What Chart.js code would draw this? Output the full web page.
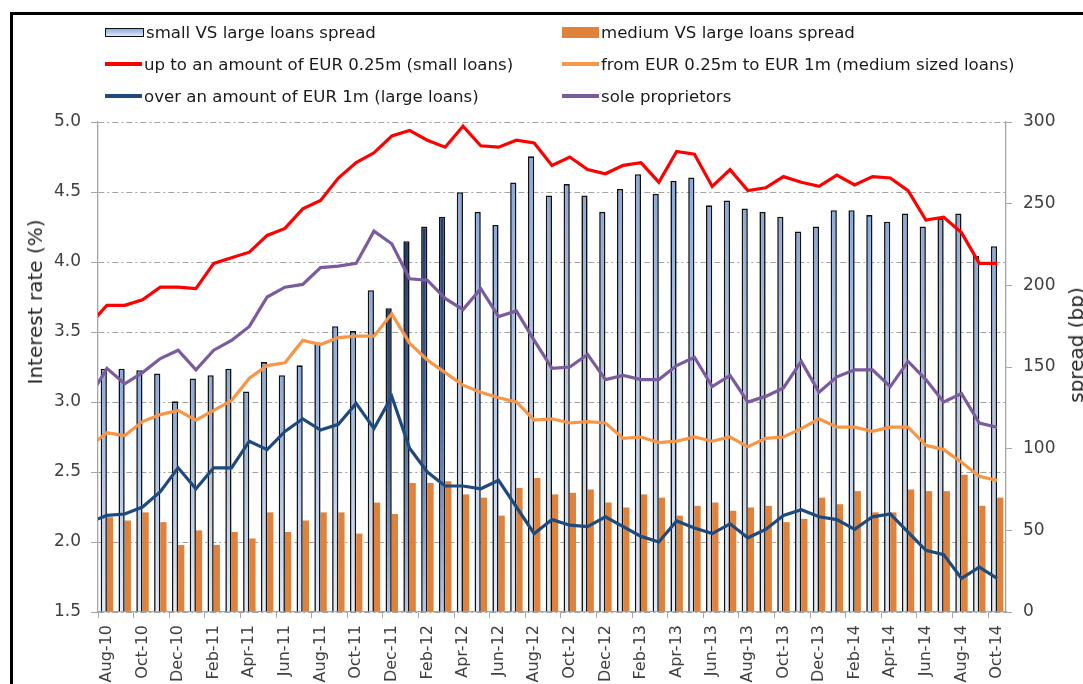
<!DOCTYPE html>
<html>
<head>
<meta charset="utf-8">
<script src="https://cdn.jsdelivr.net/npm/chart.js@4.4.1/dist/chart.umd.min.js"></script>
<style>
  html, body { margin: 0; padding: 0; background: #fff; overflow: hidden; }
  body { width: 1083px; height: 684px; position: relative; font-family: 'DejaVu Sans', sans-serif; }
  #frame { position: absolute; left: 10px; top: 12px; width: 1200px; height: 800px;
           border-left: 3px solid #000; border-top: 3px solid #000; }
  #myChart { position: absolute; left: 0; top: 0; }
  .item { position: absolute; height: 20px; display: flex; align-items: center;
          font-size: 16.6px; color: #1a1a1a; white-space: nowrap; }
  .mark { width: 37px; margin-right: 2px; flex: none; }
  .title { position: absolute; font-size: 20px; line-height: 1; color: #262626; white-space: nowrap;
           transform: translate(-50%, -50%) rotate(-90deg); }
</style>
</head>
<body>
<div id="frame"></div>
<canvas id="myChart" width="1100" height="700"></canvas>

<div class="item" style="left:105px; top:22px">
  <span class="mark" style="height:7px; border:1.5px solid #111; background:linear-gradient(#8eaadc,#dfe8f5)"></span>small VS large loans spread</div>
<div class="item" style="left:562px; top:22px">
  <span class="mark" style="height:11px; background:#e0823c"></span>medium VS large loans spread</div>
<div class="item" style="left:105px; top:54px">
  <span class="mark" style="height:3.5px; background:#ff0000"></span>up to an amount of EUR 0.25m (small loans)</div>
<div class="item" style="left:562px; top:54px">
  <span class="mark" style="height:3.5px; background:#f79646"></span>from EUR 0.25m to EUR 1m (medium sized loans)</div>
<div class="item" style="left:105px; top:86px">
  <span class="mark" style="height:3.5px; background:#1f4a7c"></span>over an amount of EUR 1m (large loans)</div>
<div class="item" style="left:562px; top:86px">
  <span class="mark" style="height:3.5px; background:#7a5c9e"></span>sole proprietors</div>

<div class="title" style="left:35px; top:302px">Interest rate (%)</div>
<div class="title" style="left:1076px; top:345px">spread (bp)</div>

<script>
// months; Jul-10 sits just outside the plot so the lines run in from the axis
const labels = [
  'Jul-10', 'Aug-10', 'Sep-10', 'Oct-10', 'Nov-10', 'Dec-10',
  'Jan-11', 'Feb-11', 'Mar-11', 'Apr-11', 'May-11', 'Jun-11', 'Jul-11', 'Aug-11', 'Sep-11', 'Oct-11', 'Nov-11', 'Dec-11',
  'Jan-12', 'Feb-12', 'Mar-12', 'Apr-12', 'May-12', 'Jun-12', 'Jul-12', 'Aug-12', 'Sep-12', 'Oct-12', 'Nov-12', 'Dec-12',
  'Jan-13', 'Feb-13', 'Mar-13', 'Apr-13', 'May-13', 'Jun-13', 'Jul-13', 'Aug-13', 'Sep-13', 'Oct-13', 'Nov-13', 'Dec-13',
  'Jan-14', 'Feb-14', 'Mar-14', 'Apr-14', 'May-14', 'Jun-14', 'Jul-14', 'Aug-14', 'Sep-14', 'Oct-14',
];

// spreads in bp (right axis)
const smallVsLarge = [null,
  149, 149, 148, 146, 129, 143, 145, 149, 135, 153, 145, 151, 165, 175, 172, 197, 186,
  227, 236, 242, 257, 245, 237, 263, 279, 255, 262, 255, 245, 259, 268, 256, 264, 266,
  249, 252, 247, 245, 242, 233, 236, 246, 246, 243, 239, 244, 236, 241, 244, 218, 224];
const mediumVsLarge = [null,
  58, 56, 61, 55, 41, 50, 41, 49, 45, 61, 49, 56, 61, 61, 48, 67, 60,
  79, 79, 80, 72, 70, 59, 76, 82, 72, 73, 75, 67, 64, 72, 70, 59, 65,
  67, 62, 64, 65, 55, 57, 70, 66, 74, 61, 61, 75, 74, 74, 84, 65, 70];

// interest rates in % (left axis)
const smallLoans = [3.55,
  3.69, 3.69, 3.73, 3.82, 3.82, 3.81, 3.99, 4.03, 4.07, 4.19, 4.24, 4.38, 4.44, 4.60, 4.71, 4.78, 4.90,
  4.94, 4.87, 4.82, 4.97, 4.83, 4.82, 4.87, 4.85, 4.69, 4.75, 4.66, 4.63, 4.69, 4.71, 4.57, 4.79, 4.77,
  4.54, 4.66, 4.51, 4.53, 4.61, 4.57, 4.54, 4.62, 4.55, 4.61, 4.60, 4.51, 4.30, 4.32, 4.21, 3.99, 3.99];
const mediumLoans = [2.68,
  2.78, 2.76, 2.86, 2.91, 2.94, 2.87, 2.94, 3.01, 3.17, 3.26, 3.28, 3.44, 3.41, 3.46, 3.47, 3.47, 3.63,
  3.42, 3.30, 3.21, 3.12, 3.07, 3.03, 3.00, 2.87, 2.88, 2.85, 2.86, 2.85, 2.74, 2.75, 2.71, 2.72, 2.75,
  2.72, 2.75, 2.68, 2.74, 2.75, 2.81, 2.88, 2.82, 2.82, 2.79, 2.82, 2.82, 2.69, 2.66, 2.57, 2.47, 2.44];
const largeLoans = [2.14,
  2.19, 2.20, 2.25, 2.36, 2.53, 2.38, 2.53, 2.53, 2.72, 2.66, 2.79, 2.88, 2.80, 2.84, 2.99, 2.81, 3.04,
  2.67, 2.50, 2.40, 2.40, 2.38, 2.44, 2.25, 2.06, 2.16, 2.12, 2.11, 2.18, 2.11, 2.04, 2.00, 2.15, 2.10,
  2.06, 2.13, 2.03, 2.09, 2.19, 2.23, 2.18, 2.16, 2.09, 2.18, 2.20, 2.07, 1.94, 1.91, 1.74, 1.82, 1.74];
const soleProprietors = [3.03,
  3.24, 3.13, 3.21, 3.31, 3.37, 3.23, 3.37, 3.44, 3.54, 3.75, 3.82, 3.84, 3.96, 3.97, 3.99, 4.22, 4.13,
  3.88, 3.87, 3.74, 3.66, 3.81, 3.61, 3.65, 3.44, 3.24, 3.25, 3.34, 3.16, 3.19, 3.16, 3.16, 3.26, 3.32,
  3.11, 3.19, 3.00, 3.04, 3.10, 3.29, 3.07, 3.18, 3.23, 3.23, 3.11, 3.29, 3.16, 3.00, 3.06, 2.85, 2.82];

// months whose small-vs-large bar is filled darker
const darkMonths = ['Dec-11', 'Jan-12', 'Feb-12', 'Mar-12'];

const FONT = "'DejaVu Sans', sans-serif";
const AXIS = '#a6a6a6';

const barFill = (c) => {
  const { chart } = c;
  const area = chart.chartArea;
  if (!area || c.raw == null) return '#9db7e0';
  const top = chart.scales.y2.getPixelForValue(c.raw);
  const g = chart.ctx.createLinearGradient(0, top, 0, area.bottom);
  if (darkMonths.includes(labels[c.dataIndex])) {
    g.addColorStop(0, '#1d3b70');
    g.addColorStop(0.45, '#3761aa');
    g.addColorStop(1, '#b3c7ea');
  } else {
    g.addColorStop(0, '#8aa8da');
    g.addColorStop(1, '#e3ebf6');
  }
  return g;
};

const line = (data, color) => ({
  type: 'line',
  data,
  borderColor: color,
  borderWidth: 3.2,
  pointRadius: 0,
  tension: 0,
  yAxisID: 'y',
  order: 0,
  clip: { left: 0, top: false, right: false, bottom: false },
});

const ctx = document.getElementById('myChart').getContext('2d');
const myChart = new Chart(ctx, {
  data: {
    labels,
    datasets: [
      line(smallLoans, '#ff0000'),
      line(mediumLoans, '#f79646'),
      line(largeLoans, '#1f4a7c'),
      line(soleProprietors, '#7a5c9e'),
      {
        type: 'bar',
        data: smallVsLarge,
        backgroundColor: barFill,
        borderColor: '#111',
        borderWidth: 1.6,
        yAxisID: 'y2',
        order: 1,
        categoryPercentage: 0.7,
        barPercentage: 1.0,
      },
      {
        type: 'bar',
        data: mediumVsLarge,
        backgroundColor: '#e0823c',
        borderWidth: 0,
        yAxisID: 'y2',
        order: 1,
        categoryPercentage: 0.7,
        barPercentage: 1.0,
      },
    ],
  },
  options: {
    responsive: false,
    animation: false,
    layout: { padding: { top: 122, left: 0, right: 0, bottom: 0 } },
    plugins: {
      legend: { display: false },
      tooltip: { enabled: false },
    },
    scales: {
      x: {
        min: 'Aug-10',
        offset: true,
        grid: {
          offset: true,
          drawOnChartArea: false,
          tickLength: 6,
          tickColor: (c) => (c.index !== undefined && c.index % 2 === 0 ? AXIS : 'rgba(0,0,0,0)'),
        },
        border: { color: AXIS, width: 1.3 },
        ticks: {
          autoSkip: false,
          minRotation: 90,
          maxRotation: 90,
          padding: 7,
          color: '#404040',
          font: { family: FONT, size: 16 },
          callback: (v, i) => (i % 2 === 0 ? labels[v] : ''),
        },
        afterFit: (s) => { s.height = 88; },
      },
      y: {
        position: 'left',
        min: 1.5,
        max: 5.0,
        grid: { color: '#a3a3a3', lineWidth: 1, tickLength: 7, tickColor: AXIS },
        border: { color: AXIS, width: 1.3, dash: [6, 3, 2, 3] },
        ticks: {
          stepSize: 0.5,
          padding: 10,
          color: '#404040',
          font: { family: FONT, size: 17 },
          callback: (v) => v.toFixed(1),
        },
        afterFit: (s) => { s.width = 98; },
      },
      y2: {
        position: 'right',
        min: 0,
        max: 300,
        grid: { drawOnChartArea: false, tickLength: 6, tickColor: AXIS },
        border: { color: AXIS, width: 1.3 },
        ticks: {
          stepSize: 50,
          padding: 11,
          color: '#404040',
          font: { family: FONT, size: 17 },
        },
        afterFit: (s) => { s.width = 94; },
      },
    },
  },
});
</script>
</body>
</html>
